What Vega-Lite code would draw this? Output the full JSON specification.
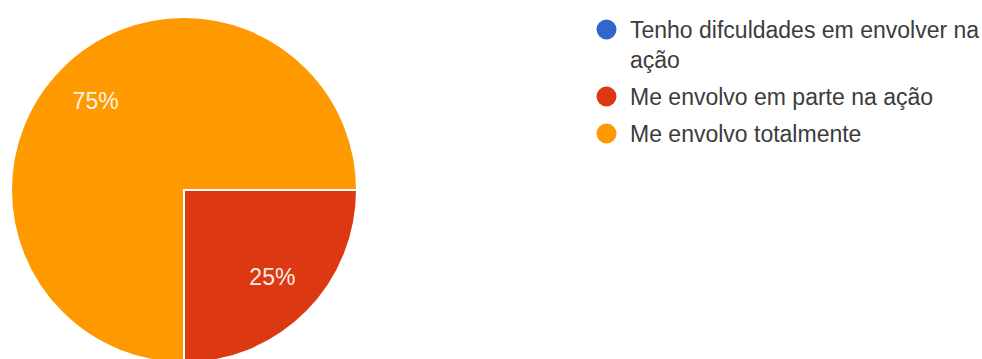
{
  "$schema": "https://vega.github.io/schema/vega-lite/v6.json",
  "width": 368,
  "height": 338,
  "autosize": {"type": "none"},
  "padding": {"left": 0, "top": 21, "right": 614, "bottom": 0},
  "background": "white",
  "config": {
    "view": {"stroke": null},
    "font": "Liberation Sans",
    "style": {"guide-label": {"dy": 8, "lineHeight": 30}}
  },
  "data": {
    "values": [
      {"id": 1, "answer": "Tenho difculdades em envolver na ação", "value": 0},
      {"id": 2, "answer": "Me envolvo em parte na ação", "value": 0.25},
      {"id": 3, "answer": "Me envolvo totalmente", "value": 0.75}
    ]
  },
  "encoding": {
    "theta": {"field": "value", "type": "quantitative", "stack": true, "scale": {"range": [1.5708, 7.854]}},
    "order": {"field": "id", "type": "quantitative"}
  },
  "layer": [
    {
      "mark": {"type": "arc", "radius": 173, "stroke": "white", "strokeWidth": 2},
      "encoding": {
        "color": {
          "field": "answer",
          "type": "nominal",
          "scale": {
            "domain": ["Tenho difculdades em envolver na ação", "Me envolvo em parte na ação", "Me envolvo totalmente"],
            "range": ["#3366cc", "#dc3912", "#ff9900"]
          },
          "legend": {
            "title": null,
            "orient": "none",
            "legendX": 595,
            "legendY": -3,
            "symbolType": "circle",
            "symbolSize": 400,
            "symbolStrokeWidth": 0,
            "labelFontSize": 23,
            "labelColor": "#3c3c3c",
            "labelLimit": 500,
            "labelOffset": 12,
            "labelBaseline": "alphabetic",
            "labelExpr": "datum.label == 'Tenho difculdades em envolver na ação' ? ['Tenho difculdades em envolver na', 'ação'] : datum.label",
            "rowPadding": 12
          }
        }
      }
    },
    {
      "transform": [{"filter": "datum.value > 0"}],
      "mark": {"type": "text", "radius": 125, "color": "white", "fontSize": 23, "opacity": 0.9},
      "encoding": {
        "text": {"field": "value", "type": "quantitative", "format": ".0%"}
      }
    }
  ]
}
